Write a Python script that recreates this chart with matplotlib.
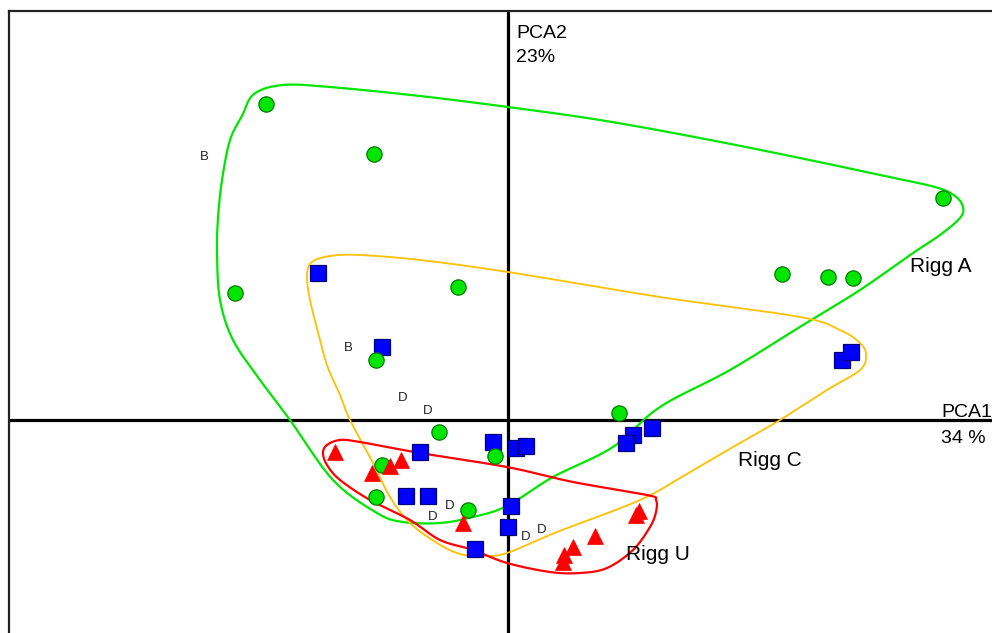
import numpy as np
import matplotlib
matplotlib.use("Agg")
import matplotlib.pyplot as plt

plt.rcParams['font.family'] = ['Liberation Sans', 'DejaVu Sans']

# ---- data (PCA scores) ----
riggA_x = [-2.42, -1.34, -2.73, -0.50, 4.35, 2.74, 3.20, 3.45, -1.32, 1.11, -0.69, -0.13, -1.26, -1.32, -0.40]
riggA_y = [3.16, 2.66, 1.27, 1.33, 2.22, 1.46, 1.43, 1.42, 0.60, 0.07, -0.12, -0.36, -0.45, -0.77, -0.90]

riggC_x = [-1.90, -1.26, 3.34, 3.43, 1.44, 1.25, 1.18, -0.15, 0.08, 0.18, -0.88, -1.02, -0.80, 0.03, 0.00, -0.33]
riggC_y = [1.47, 0.73, 0.60, 0.68, -0.08, -0.15, -0.23, -0.22, -0.28, -0.26, -0.32, -0.76, -0.76, -0.86, -1.07, -1.29]

riggU_x = [-1.73, -1.36, -1.18, -1.07, -0.45, 0.55, 0.56, 0.65, 0.87, 1.28, 1.31]
riggU_y = [-0.32, -0.53, -0.46, -0.40, -1.03, -1.42, -1.35, -1.27, -1.16, -0.95, -0.91]

label_text = ['B', 'B', 'D', 'D', 'D', 'D', 'D', 'D']
label_x = [-3.04, -1.60, -1.05, -0.80, -0.75, -0.58, 0.18, 0.34]
label_y = [2.63, 0.72, 0.22, 0.09, -0.97, -0.86, -1.17, -1.10]

# hand-drawn group envelopes
hullA_x = [-2.25, -1.78, -0.88, 0.00, 0.92, 1.92, 2.92, 3.72, 4.27, 4.47, 4.55, 4.52, 4.32, 4.05, 3.52, 2.95,
           2.22, 1.52, 1.05, 0.45, -0.01, -0.35, -0.68, -1.05, -1.31, -1.75, -2.18, -2.48, -2.75, -2.88,
           -2.91, -2.90, -2.86, -2.78, -2.66, -2.54]
hullA_y = [3.35, 3.33, 3.24, 3.13, 3.00, 2.82, 2.62, 2.45, 2.33, 2.24, 2.13, 2.02, 1.85, 1.67, 1.30, 0.95,
           0.50, 0.13, -0.27, -0.57, -0.86, -0.97, -1.03, -1.02, -0.93, -0.60, 0.00, 0.40, 0.80, 1.20,
           1.67, 2.02, 2.40, 2.80, 3.04, 3.26]

hullC_x = [-1.78, -1.48, -0.88, 0.00, 1.52, 2.92, 3.32, 3.52, 3.58, 3.52, 3.19, 2.72, 2.37, 1.82, 1.32, 0.49,
           -0.01, -0.25, -0.48, -0.71, -0.98, -1.18, -1.35, -1.58, -1.68, -1.80, -1.88, -1.98, -2.01, -1.96]
hullC_y = [1.64, 1.65, 1.60, 1.48, 1.23, 1.03, 0.90, 0.77, 0.65, 0.50, 0.30, 0.00, -0.20, -0.52, -0.80, -1.12,
           -1.33, -1.36, -1.34, -1.23, -1.03, -0.77, -0.43, 0.00, 0.25, 0.52, 0.80, 1.20, 1.45, 1.58]

hullU_x = [-1.68, -1.48, -0.88, -0.01, 0.65, 1.39, 1.48, 1.48, 1.42, 1.25, 0.99, 0.72, 0.42, -0.01, -0.35,
           -0.68, -0.98, -1.38, -1.68, -1.81, -1.85, -1.81]
hullU_y = [-0.20, -0.22, -0.33, -0.47, -0.62, -0.75, -0.80, -0.92, -1.07, -1.30, -1.48, -1.53, -1.52, -1.43,
           -1.30, -1.20, -1.00, -0.80, -0.60, -0.45, -0.33, -0.25]


def closed_spline(xs, ys, n=20):
    p = np.column_stack([xs, ys])
    m = len(p)
    out = []
    t = np.linspace(0, 1, n, endpoint=False)[:, None]
    for i in range(m):
        p0, p1, p2, p3 = p[(i - 1) % m], p[i], p[(i + 1) % m], p[(i + 2) % m]
        seg = 0.5 * ((2 * p1) + (-p0 + p2) * t + (2 * p0 - 5 * p1 + 4 * p2 - p3) * t ** 2
                     + (-p0 + 3 * p1 - 3 * p2 + p3) * t ** 3)
        out.append(seg)
    out = np.vstack(out + [p[:1]])
    return out[:, 0], out[:, 1]


fig = plt.figure(figsize=(9.92, 6.33), dpi=100)
ax = fig.add_axes([9 / 992, 0, 983 / 992, 622 / 633])
ax.set_xlim(-4.99, 4.84)
ax.set_ylim(-2.13, 4.09)
ax.set_xticks([])
ax.set_yticks([])
for s in ['right', 'bottom']:
    ax.spines[s].set_visible(False)
for s in ['left', 'top']:
    ax.spines[s].set_linewidth(1.6)
    ax.spines[s].set_color('#222222')

ax.axhline(0, color='black', lw=2.3, zorder=1)
ax.axvline(0, color='black', lw=2.3, zorder=1)

for hx, hy, c in [(hullA_x, hullA_y, '#00E600'), (hullC_x, hullC_y, '#FFC000'), (hullU_x, hullU_y, '#FF0000')]:
    sx, sy = closed_spline(hx, hy)
    ax.plot(sx, sy, color=c, lw=1.6 if c != '#FFC000' else 1.3, zorder=2)

ax.plot(riggC_x, riggC_y, 's', ms=11, mfc='#0000FF', mec='#00007A', mew=0.9, zorder=3)
ax.plot(riggA_x, riggA_y, 'o', ms=11, mfc='#00E600', mec='#007A00', mew=0.9, zorder=4)
ax.plot(riggU_x, riggU_y, '^', ms=11.5, mfc='#FF0000', mec='#FF0000', mew=0.5, zorder=5)

for t, x, y in zip(label_text, label_x, label_y):
    ax.text(x, y, t, fontsize=9.5, ha='center', va='center', color='#222222', zorder=6)

ax.text(0.08, 3.82, 'PCA2', fontsize=14, ha='left', va='baseline')
ax.text(0.08, 3.58, '23%', fontsize=14, ha='left', va='baseline')
ax.text(4.33, 0.03, 'PCA1', fontsize=14, ha='left', va='baseline')
ax.text(4.33, -0.23, '34 %', fontsize=14, ha='left', va='baseline')
ax.text(4.02, 1.53, 'Rigg A', fontsize=15, ha='left', va='center')
ax.text(2.30, -0.40, 'Rigg C', fontsize=15, ha='left', va='center')
ax.text(1.18, -1.35, 'Rigg U', fontsize=15, ha='left', va='center')

fig.savefig('out.png', dpi=100)
